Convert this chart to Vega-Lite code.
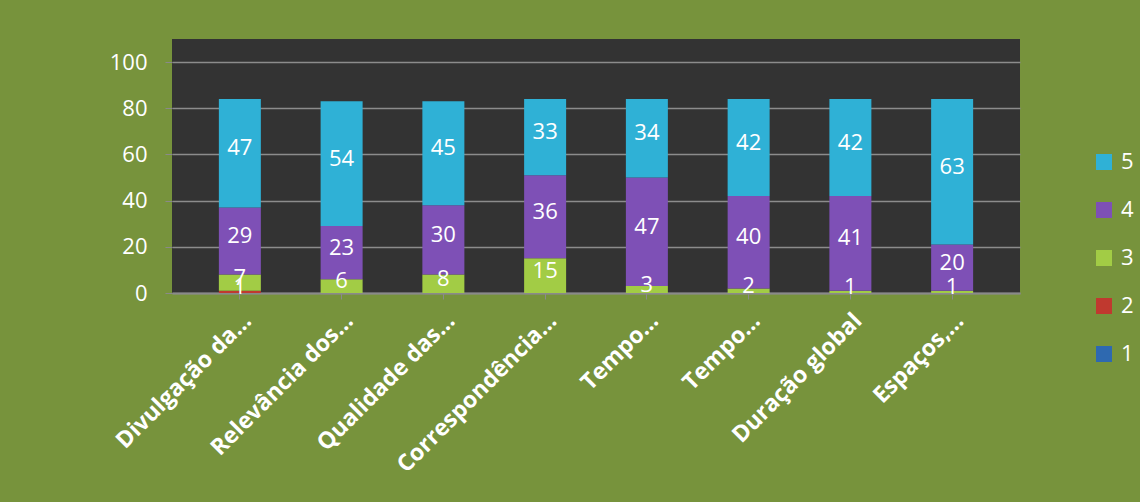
{
  "$schema": "https://vega.github.io/schema/vega-lite/v6.json",
  "width": 848,
  "height": 254,
  "autosize": {"type": "none"},
  "padding": {"left": 172, "top": 39, "right": 120, "bottom": 209},
  "background": "#77933C",
  "config": {
    "view": {"fill": "#333333", "stroke": null},
    "font": "Open Sans"
  },
  "data": {
    "values": [
      {"name": "Divulgação da…", "series": 2, "value": 1},
      {"name": "Divulgação da…", "series": 3, "value": 7},
      {"name": "Divulgação da…", "series": 4, "value": 29},
      {"name": "Divulgação da…", "series": 5, "value": 47},
      {"name": "Relevância dos…", "series": 3, "value": 6},
      {"name": "Relevância dos…", "series": 4, "value": 23},
      {"name": "Relevância dos…", "series": 5, "value": 54},
      {"name": "Qualidade das…", "series": 3, "value": 8},
      {"name": "Qualidade das…", "series": 4, "value": 30},
      {"name": "Qualidade das…", "series": 5, "value": 45},
      {"name": "Correspondência…", "series": 3, "value": 15},
      {"name": "Correspondência…", "series": 4, "value": 36},
      {"name": "Correspondência…", "series": 5, "value": 33},
      {"name": "Tempo…", "series": 3, "value": 3},
      {"name": "Tempo…", "series": 4, "value": 47},
      {"name": "Tempo…", "series": 5, "value": 34},
      {"name": "Tempo…\u200b", "series": 3, "value": 2},
      {"name": "Tempo…\u200b", "series": 4, "value": 40},
      {"name": "Tempo…\u200b", "series": 5, "value": 42},
      {"name": "Duração global", "series": 3, "value": 1},
      {"name": "Duração global", "series": 4, "value": 41},
      {"name": "Duração global", "series": 5, "value": 42},
      {"name": "Espaços,…", "series": 3, "value": 1},
      {"name": "Espaços,…", "series": 4, "value": 20},
      {"name": "Espaços,…", "series": 5, "value": 63}
    ]
  },
  "transform": [
    {"stack": "value", "groupby": ["name"], "sort": [{"field": "series", "order": "ascending"}], "as": ["v0", "v1"]},
    {"calculate": "(datum.v0 + datum.v1) / 2", "as": "mid"}
  ],
  "encoding": {
    "x": {
      "field": "name",
      "type": "nominal",
      "sort": null,
      "scale": {"paddingInner": 0, "paddingOuter": 0.167},
      "axis": {
        "title": null,
        "labelAngle": -45,
        "labelFontSize": 23,
        "labelFontWeight": "bold",
        "labelColor": "#ffffff",
        "labelLimit": 0,
        "labelPadding": 10,
        "domainColor": "#8a8a8a",
        "domainWidth": 2,
        "tickColor": "#8a8a8a",
        "tickSize": 6
      }
    }
  },
  "layer": [
    {
      "mark": {"type": "bar", "size": 42},
      "encoding": {
        "y": {
          "field": "v0",
          "type": "quantitative",
          "scale": {"domain": [0, 110], "nice": false},
          "axis": {
            "title": null,
            "values": [0, 20, 40, 60, 80, 100],
            "labelFontSize": 22,
            "labelColor": "#ffffff",
            "labelPadding": 18,
            "tickColor": "#8a8a8a",
            "tickSize": 7,
            "domain": false,
            "gridColor": "#8c8c8c",
            "gridWidth": 1.5
          }
        },
        "y2": {"field": "v1"},
        "color": {
          "field": "series",
          "type": "nominal",
          "scale": {
            "domain": [5, 4, 3, 2, 1],
            "range": ["#2FB1D6", "#7E50B6", "#A2CC45", "#C0392F", "#2E69B0"]
          },
          "legend": {
            "title": null,
            "orient": "none",
            "legendX": 921,
            "legendY": 112,
            "symbolType": "square",
            "symbolSize": 256,
            "symbolStrokeWidth": 0,
            "labelFontSize": 22,
            "labelColor": "#ffffff",
            "labelOffset": 6,
            "rowPadding": 26
          }
        }
      }
    },
    {
      "mark": {"type": "text", "color": "#ffffff", "fontSize": 22, "dy": -5},
      "encoding": {
        "y": {"field": "mid", "type": "quantitative"},
        "text": {"field": "value", "type": "quantitative"}
      }
    }
  ]
}
